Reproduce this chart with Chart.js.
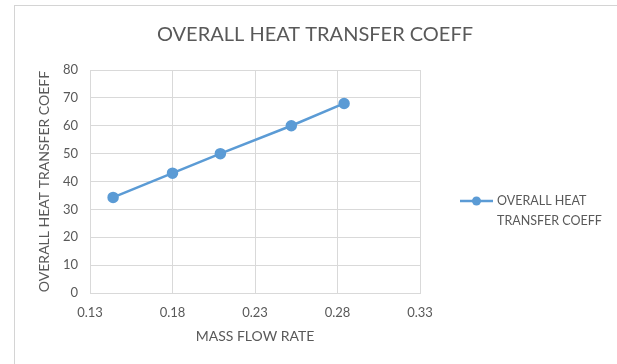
<!DOCTYPE html>
<html>
<head>
<meta charset="utf-8">
<script src="https://cdn.jsdelivr.net/npm/chart.js@4"></script>
<style>
  body { margin: 0; background: #fff; }
  #wrap { position: relative; width: 617px; height: 364px; overflow: hidden; }
  #marco { position: absolute; left: 14px; top: 5px; width: 602px; height: 400px; border: 1px solid #d4d4d4; pointer-events: none; }
</style>
</head>
<body>
<div id="wrap">
  <canvas id="grafico" width="617" height="364"></canvas>
  <div id="marco"></div>
</div>
<script>
// datos
const flujoMasico = [0.144, 0.18, 0.209, 0.252, 0.284];
const coefCalor = [34.3, 43, 50, 60, 68];
const ticksX = [0.13, 0.18, 0.23, 0.28, 0.33];
const ticksY = [0, 10, 20, 30, 40, 50, 60, 70, 80];
const titulo = 'OVERALL HEAT TRANSFER COEFF';
const nombreSerie = 'OVERALL HEAT TRANSFER COEFF';
const lineasLeyenda = ['OVERALL HEAT', 'TRANSFER COEFF'];
const tituloX = 'MASS FLOW RATE';
const tituloY = 'OVERALL HEAT TRANSFER COEFF';

const gris = '#595959';
const azul = '#5b9bd5';
const fuente = 'Lato, "DejaVu Sans", sans-serif';

// titulo y leyenda dibujados a mano
const extras = {
    id: 'extras',
    afterDraw(chart) {
        const ctx = chart.ctx;
        ctx.save();
        ctx.fillStyle = gris;
        ctx.font = '20px ' + fuente;
        ctx.textAlign = 'center';
        ctx.textBaseline = 'middle';
        ctx.fillText(titulo, 315, 35);

        const ds = chart.data.datasets[0];
        ctx.strokeStyle = ds.borderColor;
        ctx.lineWidth = 2.5;
        ctx.beginPath();
        ctx.moveTo(460, 201);
        ctx.lineTo(493, 201);
        ctx.stroke();
        ctx.fillStyle = ds.pointBackgroundColor;
        ctx.beginPath();
        ctx.arc(476.5, 201, 4.5, 0, Math.PI * 2);
        ctx.fill();

        ctx.fillStyle = gris;
        ctx.font = '12.5px ' + fuente;
        ctx.textAlign = 'left';
        lineasLeyenda.forEach((t, i) => ctx.fillText(t, 497, 201 + i * 20));
        ctx.restore();
    }
};

new Chart(document.getElementById('grafico'), {
    type: 'line',
    data: {
        datasets: [{
            label: nombreSerie,
            data: flujoMasico.map((x, i) => ({ x: x, y: coefCalor[i] })),
            borderColor: azul,
            backgroundColor: azul,
            pointBackgroundColor: azul,
            pointBorderColor: azul,
            borderWidth: 2.5,
            pointRadius: 4.5,
            tension: 0,
            fill: false,
        }],
    },
    options: {
        responsive: false,
        animation: false,
        layout: { padding: { left: 30, top: 70, right: 197, bottom: 12 } },
        plugins: {
            legend: { display: false },
            title: { display: false },
            tooltip: { enabled: false },
        },
        scales: {
            x: {
                type: 'linear',
                min: 0.13,
                max: 0.33,
                afterBuildTicks: s => { s.ticks = ticksX.map(v => ({ value: v })); },
                afterFit: s => { s.height = 59; },
                grid: { color: '#d9d9d9', drawTicks: false },
                border: { color: '#d9d9d9' },
                ticks: {
                    padding: 12,
                    color: gris,
                    font: { family: fuente, size: 13 },
                    callback: v => v.toFixed(2),
                },
                title: {
                    display: true,
                    text: tituloX,
                    color: gris,
                    font: { family: fuente, size: 14 },
                    padding: { top: 0, bottom: 7 },
                },
            },
            y: {
                min: 0,
                max: 80,
                afterBuildTicks: s => { s.ticks = ticksY.map(v => ({ value: v })); },
                afterFit: s => { s.width = 60; },
                grid: { color: '#d9d9d9', drawTicks: false },
                border: { display: false },
                ticks: {
                    padding: 12,
                    color: gris,
                    font: { family: fuente, size: 13 },
                },
                title: {
                    display: true,
                    text: tituloY,
                    color: gris,
                    font: { family: fuente, size: 14 },
                    padding: { top: 6, bottom: 0 },
                },
            },
        },
    },
    plugins: [extras],
});
</script>
</body>
</html>
